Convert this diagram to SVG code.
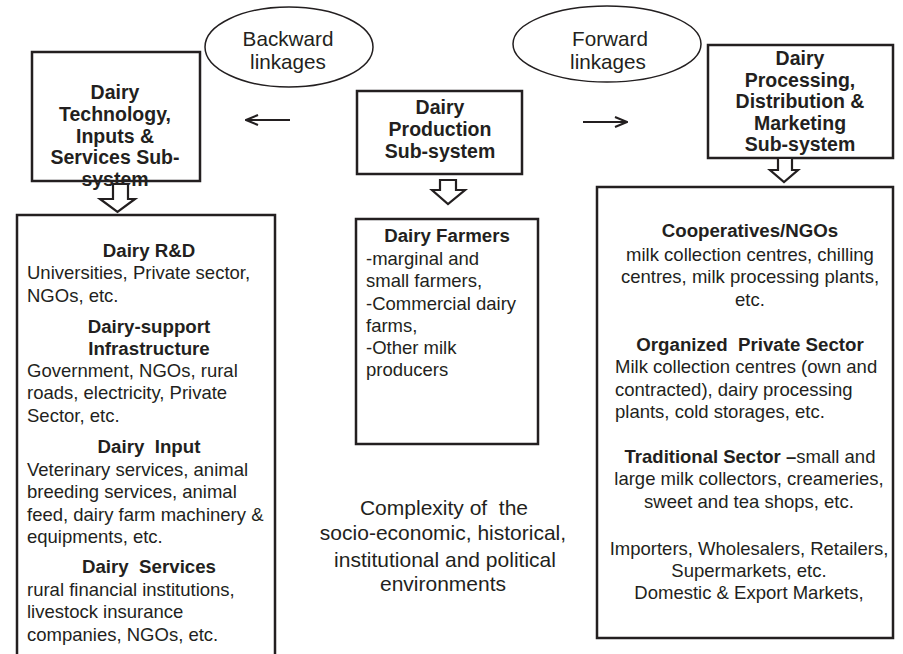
<svg xmlns="http://www.w3.org/2000/svg" width="903" height="654" viewBox="0 0 903 654">
<defs>
<style>
text{font-family:"Liberation Sans",Arial,Helvetica,sans-serif;fill:#231f20}
.b{font-weight:bold;font-size:18.7px}
.h{font-weight:bold;font-size:19.5px}
.r{font-size:18.5px}
.e{font-size:20.7px}
.c{font-size:21px}
.m{text-anchor:middle}
.box{fill:#fff;stroke:#231f20;stroke-width:2.5}
.ell{fill:#fff;stroke:#231f20;stroke-width:1.5}
.hol{fill:#fff;stroke:#231f20;stroke-width:2.2;stroke-linejoin:miter}
.ln{fill:none;stroke:#231f20;stroke-width:2.2}
</style>
<marker id="ah" viewBox="0 0 14 12" refX="13" refY="6" markerWidth="14" markerHeight="12" markerUnits="userSpaceOnUse" orient="auto">
<path d="M1,1 L13,6 L1,11" fill="none" stroke="#231f20" stroke-width="2"/>
</marker>
</defs>

<g id="backward-linkages">
<ellipse class="ell" cx="289" cy="47" rx="84" ry="40"/>
<text class="e m" x="288" y="46">Backward</text>
<text class="e m" x="288" y="69">linkages</text>
</g>

<g id="forward-linkages">
<ellipse class="ell" cx="607" cy="44" rx="94" ry="38"/>
<text class="e m" x="610" y="46">Forward</text>
<text class="e m" x="608" y="69">linkages</text>
</g>

<g id="tech-subsystem">
<rect class="box" x="32" y="52" width="168" height="129"/>
<text class="h m" x="115" y="99">Dairy</text>
<text class="h m" x="115" y="121">Technology,</text>
<text class="h m" x="115" y="143">Inputs &amp;</text>
<text class="h m" x="115" y="164">Services Sub-</text>
<text class="h m" x="115" y="186">system</text>
</g>

<g id="production-subsystem">
<rect class="box" x="357" y="91" width="165" height="83"/>
<text class="h m" x="440" y="114">Dairy</text>
<text class="h m" x="440" y="136">Production</text>
<text class="h m" x="440" y="158">Sub-system</text>
</g>

<g id="processing-subsystem">
<rect class="box" x="708" y="45" width="185" height="113"/>
<text class="h m" x="800" y="65">Dairy</text>
<text class="h m" x="800" y="87">Processing,</text>
<text class="h m" x="800" y="108">Distribution &amp;</text>
<text class="h m" x="800" y="130">Marketing</text>
<text class="h m" x="800" y="151">Sub-system</text>
</g>

<g id="connectors">
<line class="ln" x1="290" y1="120" x2="246" y2="120" marker-end="url(#ah)"/>
<line class="ln" x1="583" y1="122" x2="627" y2="122" marker-end="url(#ah)"/>
<path class="hol" d="M113,184 L128,184 L128,199 L135,199 L117.5,212 L100,199 L113,199 Z"/>
<path class="hol" d="M440,180 L456,180 L456,190 L465,190 L448,204 L432,190 L440,190 Z"/>
<path class="hol" d="M778,158 L792,158 L792,170 L798,170 L784,182 L770,170 L778,170 Z"/>
</g>

<g id="tech-actors">
<rect class="box" x="17" y="215" width="258" height="460"/>
<text class="b m" x="149" y="257">Dairy R&amp;D</text>
<text class="r" x="27" y="279">Universities, Private sector,</text>
<text class="r" x="27" y="302">NGOs, etc.</text>
<text class="b m" x="149" y="333">Dairy-support</text>
<text class="b m" x="149" y="355">Infrastructure</text>
<text class="r" x="27" y="377">Government, NGOs, rural</text>
<text class="r" x="27" y="399">roads, electricity, Private</text>
<text class="r" x="27" y="422">Sector, etc.</text>
<text class="b m" x="149" y="453" xml:space="preserve">Dairy  Input</text>
<text class="r" x="27" y="476">Veterinary services, animal</text>
<text class="r" x="27" y="498">breeding services, animal</text>
<text class="r" x="27" y="521">feed, dairy farm machinery &amp;</text>
<text class="r" x="27" y="543">equipments, etc.</text>
<text class="b m" x="149" y="573" xml:space="preserve">Dairy  Services</text>
<text class="r" x="27" y="596">rural financial institutions,</text>
<text class="r" x="27" y="618">livestock insurance</text>
<text class="r" x="27" y="641">companies, NGOs, etc.</text>
</g>

<g id="dairy-farmers">
<rect class="box" x="356" y="219" width="182" height="225"/>
<text class="b m" x="447" y="242">Dairy Farmers</text>
<text class="r" x="366" y="265">-marginal and</text>
<text class="r" x="366" y="287">small farmers,</text>
<text class="r" x="366" y="310">-Commercial dairy</text>
<text class="r" x="366" y="332">farms,</text>
<text class="r" x="366" y="354">-Other milk</text>
<text class="r" x="366" y="376">producers</text>
</g>

<g id="environment">
<text class="c m" x="444" y="515" xml:space="preserve">Complexity of  the</text>
<text class="c m" x="443" y="540">socio-economic, historical,</text>
<text class="c m" x="445" y="567">institutional and political</text>
<text class="c m" x="443" y="591">environments</text>
</g>

<g id="processing-actors">
<rect class="box" x="597" y="187" width="296" height="451"/>
<text class="b m" x="750" y="237">Cooperatives/NGOs</text>
<text class="r m" x="750" y="261">milk collection centres, chilling</text>
<text class="r m" x="750" y="283">centres, milk processing plants,</text>
<text class="r m" x="750" y="306">etc.</text>
<text class="b m" x="750" y="351" xml:space="preserve">Organized  Private Sector</text>
<text class="r" x="615" y="373">Milk collection centres (own and</text>
<text class="r" x="615" y="396">contracted), dairy processing</text>
<text class="r" x="615" y="418">plants, cold storages, etc.</text>
<text class="r m" x="750" y="463"><tspan font-weight="bold">Traditional Sector –</tspan>small and</text>
<text class="r m" x="749" y="485">large milk collectors, creameries,</text>
<text class="r m" x="749" y="508">sweet and tea shops, etc.</text>
<text class="r m" x="749" y="555">Importers, Wholesalers, Retailers,</text>
<text class="r m" x="749" y="577">Supermarkets, etc.</text>
<text class="r m" x="749" y="599">Domestic &amp; Export Markets,</text>
</g>
</svg>
